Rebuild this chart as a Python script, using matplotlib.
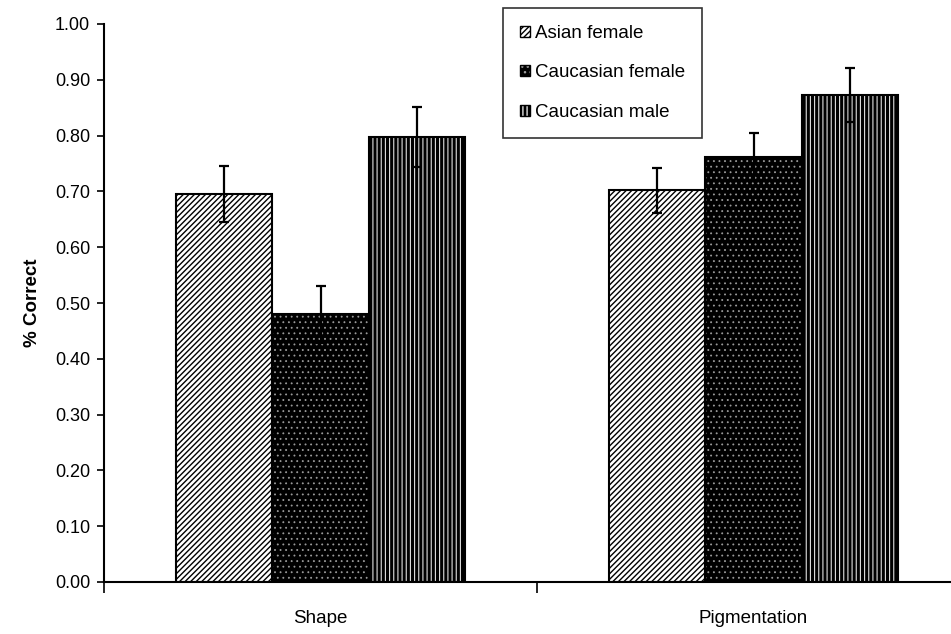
import numpy as np
import matplotlib as mpl
import matplotlib.pyplot as plt
from matplotlib.patches import Patch

plt.rcParams['font.family'] = ['Liberation Sans', 'DejaVu Sans']

categories = ["Shape", "Pigmentation"]
groups = ["Asian female", "Caucasian female", "Caucasian male"]
means = {
    "Asian female": [0.695, 0.702],
    "Caucasian female": [0.480, 0.762],
    "Caucasian male": [0.797, 0.873],
}
errors = {
    "Asian female": [0.050, 0.040],
    "Caucasian female": [0.051, 0.043],
    "Caucasian male": [0.054, 0.049],
}

# face, hatch, hatch colour, hatch linewidth per group
styles = {
    "Asian female": ("white", "//////", "black", 1.0),
    "Caucasian female": ("black", "...", "#9a9a9a", 0.6),
    "Caucasian male": ("black", "||||", "#e0e0e0", 0.8),
}

fig = plt.figure(figsize=(9.51, 6.34), dpi=100)
ax = fig.add_axes([104 / 951, 52 / 634, 866 / 951, 558 / 634])

x = np.arange(len(categories))
w = 0.222
offsets = [-w, 0, w]

handles = []
for g, off in zip(groups, offsets):
    face, hatch, hc, hlw = styles[g]
    with mpl.rc_context({'hatch.linewidth': hlw}):
        ax.bar(x + off, means[g], w, color=face, hatch=hatch, edgecolor=hc, linewidth=0, zorder=2)
        hp = Patch(facecolor=face, hatch=hatch, edgecolor=hc, linewidth=0)
    ax.bar(x + off, means[g], w, fill=False, edgecolor="black", linewidth=1.5, zorder=3)
    ax.errorbar(x + off, means[g], yerr=errors[g], fmt="none", ecolor="black",
                elinewidth=1.6, capsize=3.5, capthick=1.6, zorder=4)
    handles.append((hp, Patch(fill=False, edgecolor="black", linewidth=1.0)))

ax.set_xlim(-0.5, 1.5)
ax.set_ylim(0, 1.0)
ax.set_yticks(np.arange(0, 1.01, 0.1))
ax.set_yticklabels([f"{v:.2f}" for v in np.arange(0, 1.01, 0.1)], fontsize=13)
ax.set_xticks([-0.5, 0.5, 1.5])
ax.set_xticklabels([])
ax.set_xticks(x, minor=True)
ax.set_xticklabels(categories, minor=True, fontsize=13.5)
ax.tick_params(axis="x", which="major", direction="out", length=8, width=1.2)
ax.tick_params(axis="x", which="minor", length=0, pad=20)
ax.tick_params(axis="y", direction="out", length=5, width=1.2, pad=5)

for s in ["top", "right"]:
    ax.spines[s].set_visible(False)
for s in ["left", "bottom"]:
    ax.spines[s].set_linewidth(1.5)

ax.set_ylabel("% Correct", fontsize=13.5, fontweight="bold", labelpad=10)

leg = ax.legend(handles, groups, loc="upper left", bbox_to_anchor=(503 / 951, 1 - 8 / 634),
                bbox_transform=fig.transFigure, fontsize=13.5, handlelength=0.55,
                handleheight=0.55, handletextpad=0.25, labelspacing=1.2,
                frameon=True, fancybox=False, borderpad=0.9, borderaxespad=0)
leg.get_frame().set_edgecolor("black")
leg.get_frame().set_linewidth(1.2)

fig.savefig("out.png", dpi=100)
